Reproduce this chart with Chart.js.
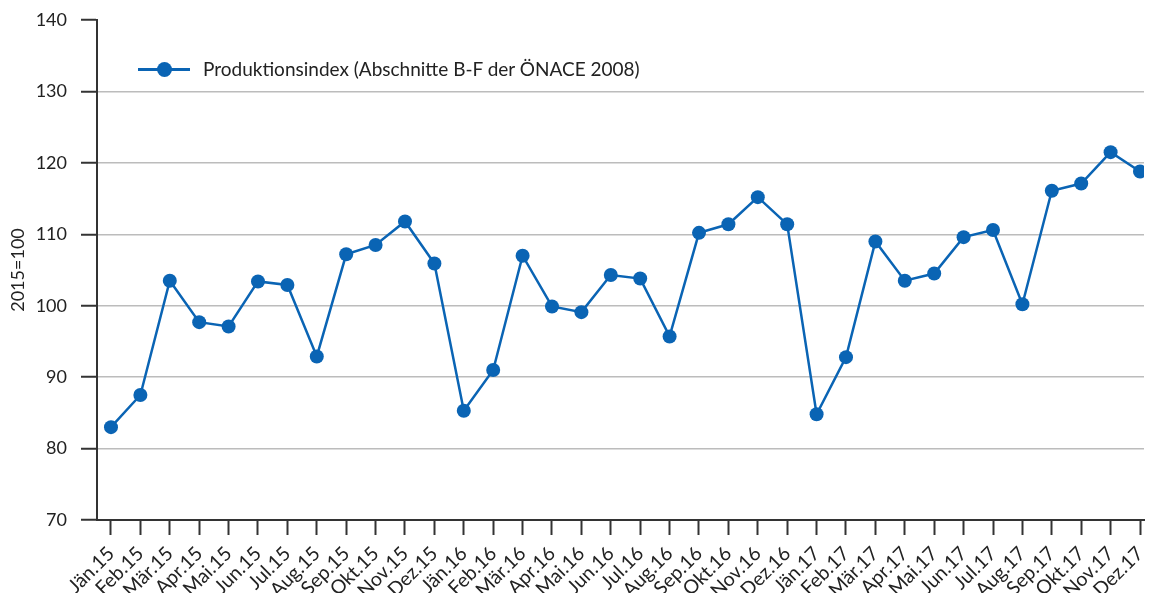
<!DOCTYPE html>
<html>
<head>
<meta charset="utf-8">
<script src="https://cdn.jsdelivr.net/npm/chart.js@4/dist/chart.umd.min.js"></script>
<style>
  html, body { margin: 0; padding: 0; background: #fff; }
  #wrap { position: relative; width: 1151px; height: 593px; overflow: hidden; }
  #legend { position: absolute; left: 138px; top: 57px; display: flex; align-items: center;
    font-family: Lato, "Open Sans", sans-serif; font-size: 19px; color: #222; }
  #legend .mark { position: relative; width: 52px; height: 22px; margin-right: 13px; }
  #legend .mark .ln { position: absolute; left: 0; right: 0; top: 10px; height: 3px; background: #0a64b4; }
  #legend .mark .dot { position: absolute; left: 19px; top: 4px; width: 15px; height: 15px; border-radius: 50%; background: #0a64b4; }
</style>
</head>
<body>
<div id="wrap">
  <canvas id="chart" width="1151" height="593"></canvas>
  <div id="legend"><div class="mark"><div class="ln"></div><div class="dot"></div></div><span>Produktionsindex (Abschnitte B-F der ÖNACE 2008)</span></div>
</div>
<script>
const months = ['Jän.15','Feb.15','Mär.15','Apr.15','Mai.15','Jun.15','Jul.15','Aug.15','Sep.15','Okt.15','Nov.15','Dez.15',
  'Jän.16','Feb.16','Mär.16','Apr.16','Mai.16','Jun.16','Jul.16','Aug.16','Sep.16','Okt.16','Nov.16','Dez.16',
  'Jän.17','Feb.17','Mär.17','Apr.17','Mai.17','Jun.17','Jul.17','Aug.17','Sep.17','Okt.17','Nov.17','Dez.17'];
const produktionsindex = [83.0, 87.5, 103.5, 97.7, 97.1, 103.4, 102.9, 92.9, 107.2, 108.5, 111.8, 105.9,
  85.3, 91.0, 107.0, 99.9, 99.1, 104.3, 103.8, 95.7, 110.2, 111.4, 115.2, 111.4,
  84.8, 92.8, 109.0, 103.5, 104.5, 109.6, 110.6, 100.2, 116.1, 117.1, 121.5, 118.8];
const yTicks = [70, 80, 90, 100, 110, 120, 130, 140];
const seriesName = 'Produktionsindex (Abschnitte B-F der ÖNACE 2008)';

const blue = '#0a64b4';
const dark = '#333';
const font = 'Lato, "Open Sans", sans-serif';

new Chart(document.getElementById('chart'), {
  type: 'line',
  data: {
    datasets: [{
      label: seriesName,
      data: produktionsindex.map((v, i) => ({ x: i, y: v })),
      borderColor: blue,
      backgroundColor: blue,
      borderWidth: 2.5,
      pointRadius: 7,
      pointHoverRadius: 7,
      pointBorderWidth: 0,
      tension: 0
    }]
  },
  options: {
    responsive: false,
    animation: false,
    layout: { padding: { top: 20, right: 6, left: 0, bottom: 0 } },
    plugins: { legend: { display: false }, tooltip: { enabled: false } },
    scales: {
      x: {
        type: 'linear',
        min: -0.476,
        max: 35.136,
        afterBuildTicks: s => { s.ticks = months.map((_, i) => ({ value: i })); },
        afterFit: s => { s.height = 73; s.paddingLeft = 0; s.paddingRight = 0; },
        border: { color: dark, width: 2 },
        grid: { drawOnChartArea: false, tickColor: dark, tickLength: 15, tickWidth: 2 },
        ticks: {
          autoSkip: false, minRotation: 45, maxRotation: 45, padding: 7,
          color: '#222', font: { family: font, size: 19.5 },
          callback: v => months[v]
        }
      },
      y: {
        min: 70, max: 140,
        afterBuildTicks: s => { s.ticks = yTicks.map(v => ({ value: v })); },
        afterFit: s => { s.width = 97; s.paddingTop = 0; s.paddingBottom = 0; },
        border: { color: dark, width: 2 },
        grid: {
          color: c => (c.tick && (c.tick.value === 140 || c.tick.value === 70)) ? 'rgba(0,0,0,0)' : '#bcbcbc',
          lineWidth: 1.5, tickColor: dark, tickLength: 16, tickWidth: 2
        },
        ticks: { padding: 14, color: '#222', font: { family: font, size: 18 } },
        title: { display: true, text: '2015=100', color: '#222', font: { family: font, size: 18 }, padding: { top: 7, bottom: 0 } }
      }
    }
  }
});
</script>
</body>
</html>
